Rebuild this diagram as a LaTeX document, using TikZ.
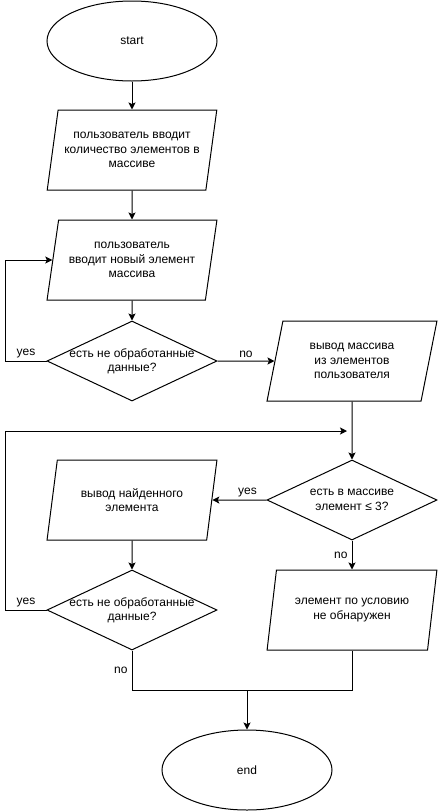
\documentclass[tikz,border=0pt]{standalone}
\usepackage{fontspec}
\setmainfont{Liberation Sans}
\usetikzlibrary{shapes.geometric, arrows.meta}

\tikzset{
  startstop/.style={ellipse, draw, minimum width=170pt, minimum height=80pt},
  io/.style={trapezium, trapezium left angle=76, trapezium right angle=104,
    trapezium stretches=true, draw, minimum width=170pt, minimum height=80pt, align=center},
  decision/.style={diamond, draw, aspect=2.125, inner sep=-8pt,
    minimum width=170pt, minimum height=80pt, align=center},
  arr/.style={-{Stealth[length=7pt, width=7pt, inset=1.5pt]}},
  lbl/.style={inner sep=1pt}
}

\begin{document}
\begin{tikzpicture}[x=1pt, y=-1pt, line width=1pt, font=\fontsize{12}{14.4}\selectfont]
  \useasboundingbox (0,0) rectangle (439,812);
  % blocks
  \node[startstop] (start) at (132,41) {start};
  \node[io] (count) at (132,150) {пользователь вводит\\количество элементов в\\массиве};
  \node[io] (input) at (132,260) {пользователь\\вводит новый элемент\\массива};
  \node[decision] (more1) at (132,361) {есть не обработанные\\данные?};
  \node[io] (print) at (352,361) {вывод массива\\из элементов\\пользователя};
  \node[decision] (check) at (352,500) {есть в массиве\\элемент ≤ 3?};
  \node[io] (found) at (132,500) {вывод найденного\\элемента};
  \node[decision] (more2) at (132,610) {есть не обработанные\\данные?};
  \node[io] (none) at (352,610) {элемент по условию\\не обнаружен};
  \node[startstop] (end) at (247,770) {end};
  \coordinate (join) at (247,690);
  \coordinate (loop) at (347,431);

  % connectors
  \draw[arr] (start) -- (count);
  \draw[arr] (count) -- (input);
  \draw[arr] (input) -- (more1);
  \draw[arr] (more1.west) -- node[lbl, above=2pt] {yes} ++(-41,0) |- (input);
  \draw[arr] (more1) -- node[lbl, above=2pt] {no} (print);
  \draw[arr] (print) -- (check);
  \draw[arr] (check) -- node[lbl, above=2pt, pos=0.35] {yes} (found);
  \draw[arr] (check) -- node[lbl, left=3pt] {no} (none);
  \draw[arr] (found) -- (more2);
  \draw[arr] (more2.west) -- node[lbl, above=2pt] {yes} ++(-41,0) |- (loop);
  \draw (more2) -- node[lbl, left=3pt] {no} (more2 |- join) -| (none);
  \draw[arr] (join) -- (end);
\end{tikzpicture}
\end{document}
